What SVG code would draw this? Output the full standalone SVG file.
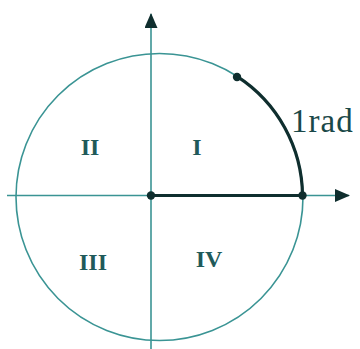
<svg xmlns="http://www.w3.org/2000/svg" width="360" height="349" viewBox="0 0 360 349">
  <style>
    .thin { fill: none; stroke: #3a9494; stroke-width: 1.6; }
    .thick { fill: none; stroke: #0f2e2e; stroke-width: 3.2; stroke-linecap: round; }
    .dot { fill: #0f2e2e; }
    .num { font-family: "Liberation Serif", "Times New Roman", serif; font-weight: bold; font-size: 24px; fill: #1f5a5a; text-anchor: middle; }
    .lbl { font-family: "Liberation Serif", "Times New Roman", serif; font-size: 33px; fill: #1a4848; letter-spacing: 1px; }
  </style>
  <defs>
    <marker id="arrow" markerUnits="userSpaceOnUse" markerWidth="16" markerHeight="14" refX="14" refY="6.5" orient="auto">
      <path d="M0,0 L15,6.5 L0,13 Z" fill="#0f2e2e"/>
    </marker>
  </defs>
  <rect width="360" height="349" fill="#ffffff"/>
  <g id="circle">
    <circle class="thin" cx="159.5" cy="197" r="143.5"/>
  </g>
  <g id="axes">
    <line class="thin" x1="7" y1="195.5" x2="349" y2="195.5" marker-end="url(#arrow)"/>
    <line class="thin" x1="151" y1="349" x2="151" y2="14" marker-end="url(#arrow)"/>
  </g>
  <g id="radian">
    <line class="thick" x1="151" y1="195.5" x2="302.5" y2="195.5"/>
    <path class="thick" d="M302.5,195.5 A143.5,143.5 0 0 0 237,76.3"/>
    <circle class="dot" cx="151" cy="195.5" r="4.2"/>
    <circle class="dot" cx="302.5" cy="195.5" r="4.2"/>
    <circle class="dot" cx="237" cy="77" r="4.2"/>
  </g>
  <g id="labels">
    <text class="num" x="90" y="155">II</text>
    <text class="num" x="197" y="155">I</text>
    <text class="num" x="93" y="270">III</text>
    <text class="num" x="209" y="267">IV</text>
    <text class="lbl" x="291" y="132">1rad</text>
  </g>
</svg>
